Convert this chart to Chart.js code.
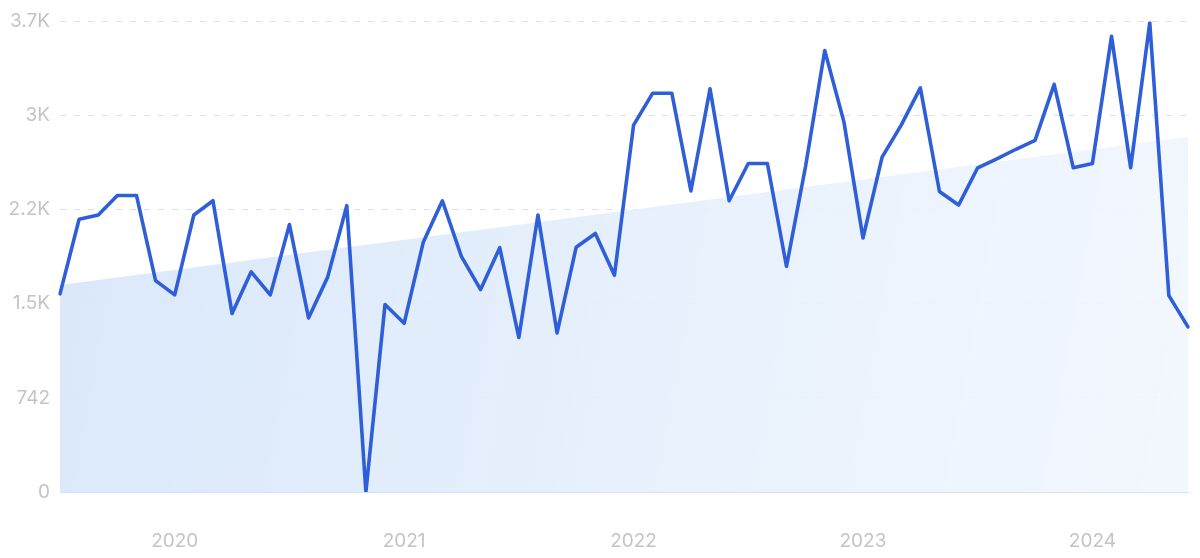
<!DOCTYPE html>
<html><head><meta charset="utf-8">
<script src="https://cdn.jsdelivr.net/npm/chart.js@4/dist/chart.umd.min.js"></script>
<style>html,body{margin:0;padding:0;background:#fff;}#wrap{width:1200px;height:558px;position:relative;}</style>
</head><body><div id="wrap"><canvas id="c" width="1200" height="558"></canvas></div>
<script>
const months = [
 "2019-07","2019-08","2019-09","2019-10","2019-11","2019-12",
 "2020-01","2020-02","2020-03","2020-04","2020-05","2020-06","2020-07","2020-08","2020-09","2020-10","2020-11","2020-12",
 "2021-01","2021-02","2021-03","2021-04","2021-05","2021-06","2021-07","2021-08","2021-09","2021-10","2021-11","2021-12",
 "2022-01","2022-02","2022-03","2022-04","2022-05","2022-06","2022-07","2022-08","2022-09","2022-10","2022-11","2022-12",
 "2023-01","2023-02","2023-03","2023-04","2023-05","2023-06","2023-07","2023-08","2023-09","2023-10","2023-11","2023-12",
 "2024-01","2024-02","2024-03","2024-04","2024-05","2024-06"];
const volumes = [
 1562,2150,2184,2338,2338,1666,1554,2184,2296,1408,1736,1554,2108,
 1372,1694,2257,0,1478,1330,1968,2296,1856,1596,1926,1218,2184,1254,1930,
 2038,1708,2892,3144,3144,2374,3178,2296,2590,2590,1778,2570,3480,2920,
 2002,2640,2892,3186,2369,2262,2556,2626,2702,2772,3214,2556,2590,3592,2556,3699,1548,1302];
const trendStart = 1632, trendEnd = 2800;
const yTicks = [0,742,1484,2226,2968,3710];
const yTickLabels = ["0","742","1.5K","2.2K","3K","3.7K"];

const ctx = document.getElementById('c').getContext('2d');
const grad = ctx.createLinearGradient(60, 285, 1188, 492);
grad.addColorStop(0, 'rgba(216,231,250,0.95)');
grad.addColorStop(1, 'rgba(242,247,254,0.9)');

new Chart(ctx, {
  type: 'line',
  data: {
    labels: months,
    datasets: [
      { data: volumes, borderColor: '#2f5fd8', borderWidth: 3.6, pointRadius: 0, tension: 0, fill: false, borderJoinStyle: 'round', borderCapStyle: 'round', order: 0 },
      { data: [{x: months[0], y: trendStart}, {x: months[months.length-1], y: trendEnd}], borderWidth: 0, borderColor: 'rgba(0,0,0,0)', backgroundColor: grad, fill: 'origin', pointRadius: 0, order: 1 }
    ]
  },
  options: {
    responsive: false, animation: false, devicePixelRatio: 1,
    layout: { padding: { top: 20, right: 12, left: 0, bottom: 0 } },
    plugins: { legend: { display: false }, tooltip: { enabled: false } },
    scales: {
      x: {
        offset: false,
        grid: { display: false, drawTicks: false },
        border: { display: true, color: '#d3e2f6', width: 1 },
        ticks: {
          autoSkip: false, maxRotation: 0, padding: 38,
          color: '#c4c4c8', font: { family: 'Inter', size: 19 },
          callback: function(v, i) { const m = months[i]; return m.endsWith('-01') ? m.slice(0,4) : ''; }
        },
        afterFit: function(s) { s.height = 66; s.paddingRight = 0; s.paddingLeft = 0; }
      },
      y: {
        min: 0, max: 3710,
        afterBuildTicks: function(s) { s.ticks = yTicks.map(v => ({ value: v })); },
        grid: { color: '#dbe1ec', drawTicks: false, lineWidth: 1 },
        border: { display: false, dash: [6, 8] },
        ticks: {
          padding: 10, color: '#c4c4c8', font: { family: 'Inter', size: 19 },
          callback: function(v) { const k = yTicks.indexOf(v); return k >= 0 ? yTickLabels[k] : ''; }
        },
        afterFit: function(s) { s.width = 60; }
      }
    }
  }
});
</script></body></html>
